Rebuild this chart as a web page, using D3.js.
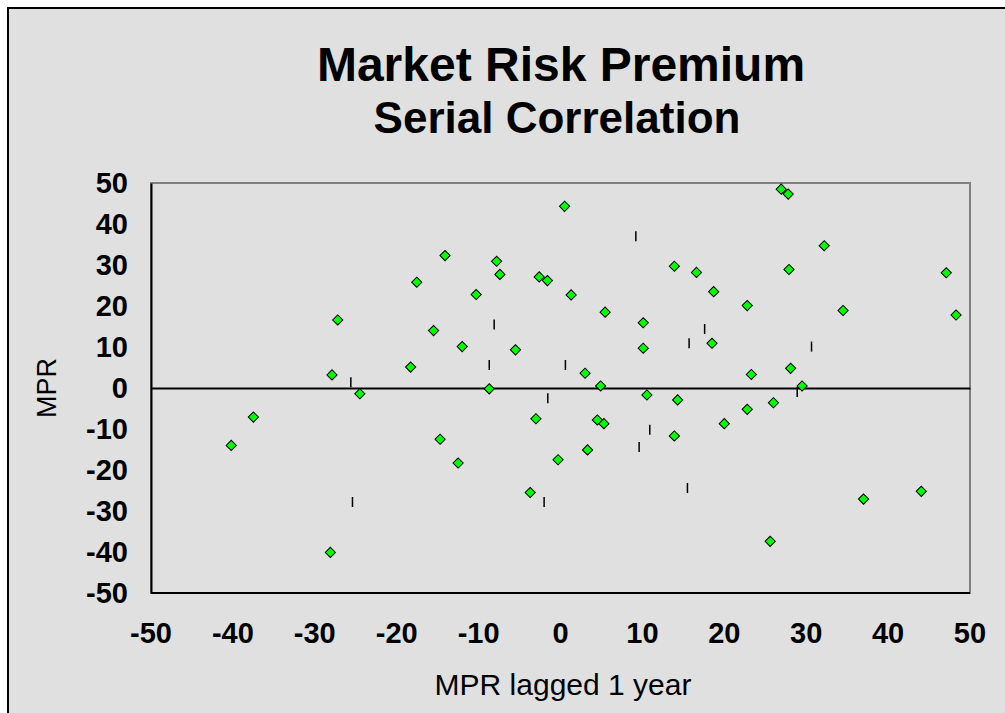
<!DOCTYPE html>
<html><head><meta charset="utf-8">
<script src="https://cdn.jsdelivr.net/npm/d3@7"></script>
<style>
html,body{margin:0;padding:0;background:#fff;}
svg{display:block;}
text{font-family:"Liberation Sans",Arial,sans-serif;}
</style></head>
<body>
<script>
// ---- data ----
const titleLines = ["Market Risk Premium", "Serial Correlation"];
const xAxisTitle = "MPR lagged 1 year";
const yAxisTitle = "MPR";
const tickValues = [-50, -40, -30, -20, -10, 0, 10, 20, 30, 40, 50];
// MPR lagged 1 year (x) vs MPR (y): diamond series
const lagged = [-37.5, -40.2,
  -14.1, -17.55, -10.3, -27.2, -15.5, -12.0, -18.3, -27.9, -24.5, -14.7, -12.5, -28.1,
  0.5, -7.8, -7.4, -2.6, -1.6, 1.3, 5.45, 10.1, -5.5, 10.1, 3.0, 4.9, -8.7, 10.55, -3.0, 4.5, 5.3, 3.3, -0.3, -3.7,
  26.95, 27.8, 13.9, 27.9, 16.6, 18.7, 22.8, 18.5, 28.1, 23.3, 29.5, 14.3, 26.0, 22.8, 20.0, 13.9, 25.6,
  32.2, 47.1, 34.5, 48.3, 37.0, 44.05];
const mpr = [-7.1, -14.0,
  32.3, 25.8, 22.8, 16.6, 14.0, 10.1, 5.1, 3.2, -1.4, -12.5, -18.3, -40.1,
  44.3, 30.9, 27.7, 27.1, 26.2, 22.7, 18.5, 15.9, 9.3, 9.7, 3.6, 0.5, -0.2, -1.7, -7.5, -7.8, -8.7, -15.1, -17.5, -25.5,
  48.5, 47.3, 29.7, 28.9, 28.2, 23.5, 20.1, 10.9, 4.8, 3.3, 0.5, -2.9, -3.6, -5.2, -8.7, -11.7, -37.4,
  34.7, 28.1, 18.9, 17.8, -27.1, -25.2];
// second series drawn with short vertical dash markers
const dashX = [-25.6, -25.4, 9.2, -8.1, -8.7, 0.6, -1.55, 10.9, 9.6, -2.0, 17.6, 15.7, 30.65, 28.9, 15.5];
const dashY = [1.4, -27.8, 37.0, 15.5, 5.6, 5.6, -2.5, -10.2, -14.4, -27.8, 14.4, 10.9, 10.1, -1.0, -24.4];

// ---- layout ----
const W = 1005, H = 713;
const plot = {left: 151, top: 183, right: 970, bottom: 593};

const svg = d3.select("body").append("svg").attr("width", W).attr("height", H);
svg.append("rect").attr("x", 0).attr("y", 0).attr("width", W).attr("height", H).attr("fill", "#ffffff");
svg.append("rect").attr("x", 8).attr("y", 8).attr("width", 1200).attr("height", 900)
  .attr("fill", "#e0e0e0").attr("stroke", "#000").attr("stroke-width", 2);

const x = d3.scaleLinear().domain([-50, 50]).range([plot.left, plot.right]);
const y = d3.scaleLinear().domain([-50, 50]).range([plot.bottom, plot.top]);

// plot area
svg.append("rect").attr("x", plot.left).attr("y", plot.top)
  .attr("width", plot.right - plot.left).attr("height", plot.bottom - plot.top)
  .attr("fill", "#e0e0e0").attr("stroke", "#808080").attr("stroke-width", 2);
svg.append("line").attr("x1", plot.left).attr("x2", plot.right).attr("y1", plot.bottom).attr("y2", plot.bottom)
  .attr("stroke", "#000").attr("stroke-width", 2);

const fmt = d => String(d);

// y axis (at x = -50)
const yAxis = d3.axisLeft(y).tickValues(tickValues).tickSize(0).tickPadding(23).tickFormat(fmt);
const gy = svg.append("g").attr("transform", `translate(${plot.left},0)`).call(yAxis);
gy.select(".domain").attr("stroke", "#000").attr("stroke-width", 2);
gy.selectAll("text").attr("font-size", 29).attr("font-weight", "bold").attr("fill", "#000")
  .attr("font-family", "Liberation Sans, Arial, sans-serif");

// x axis crossing at y = 0, labels at bottom of plot
const gx = svg.append("g").attr("transform", `translate(0,${y(0)})`)
  .call(d3.axisBottom(x).tickValues(tickValues).tickSize(0).tickFormat(() => ""));
gx.select(".domain").attr("stroke", "#000").attr("stroke-width", 2);

svg.append("g").selectAll("text").data(tickValues).join("text")
  .attr("x", d => x(d)).attr("y", 643)
  .attr("text-anchor", "middle").attr("font-size", 29).attr("font-weight", "bold").attr("fill", "#000")
  .text(fmt);

// dash series
svg.append("g").selectAll("line").data(dashX.map((d, i) => [d, dashY[i]])).join("line")
  .attr("x1", d => x(d[0])).attr("x2", d => x(d[0]))
  .attr("y1", d => y(d[1]) - 5).attr("y2", d => y(d[1]) + 5)
  .attr("stroke", "#000").attr("stroke-width", 1.5);

// diamonds
const diamond = d3.symbol().type(d3.symbolSquare).size(52);
svg.append("g").selectAll("path").data(lagged.map((d, i) => [d, mpr[i]])).join("path")
  .attr("d", diamond)
  .attr("transform", d => `translate(${x(d[0])},${y(d[1])}) rotate(45)`)
  .attr("fill", "#00ff00").attr("stroke", "#000").attr("stroke-width", 1);

// titles
svg.append("text").attr("x", 561).attr("y", 81).attr("text-anchor", "middle")
  .attr("font-size", 48).attr("font-weight", "bold").text(titleLines[0]);
svg.append("text").attr("x", 557).attr("y", 133).attr("text-anchor", "middle")
  .attr("font-size", 44).attr("font-weight", "bold").text(titleLines[1]);

// axis titles
svg.append("text").attr("x", 563).attr("y", 695).attr("text-anchor", "middle")
  .attr("font-size", 30).text(xAxisTitle);
svg.append("text").attr("transform", `translate(56,${y(0)}) rotate(-90)`).attr("text-anchor", "middle")
  .attr("font-size", 27).text(yAxisTitle);
</script>
</body></html>
